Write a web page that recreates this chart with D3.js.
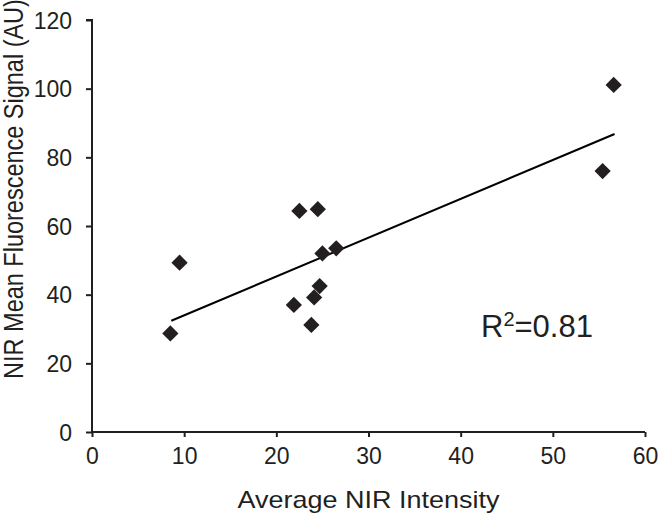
<!DOCTYPE html>
<html><head><meta charset="utf-8">
<script src="https://cdn.jsdelivr.net/npm/d3@7"></script>
<style>body{margin:0;background:#fff}svg{display:block}text{font-family:Arial,"Liberation Sans",sans-serif;fill:#231f20}</style>
</head><body>
<svg id="c" width="660" height="517"></svg>
<script>
const xVals = [8.5, 9.5, 21.9, 22.5, 23.8, 24.1, 24.5, 24.7, 25.0, 26.5, 55.4, 56.6];
const yVals = [28.7, 49.3, 37.0, 64.4, 31.2, 39.2, 64.9, 42.5, 52.0, 53.5, 76.0, 101.1];
const fitX = [8.6, 56.7];
const fitY = [32.4, 86.8];
const xTicks = [0, 10, 20, 30, 40, 50, 60];
const yTicks = [0, 20, 40, 60, 80, 100, 120];
const xTitle = "Average NIR Intensity";
const yTitle = "NIR Mean Fluorescence Signal (AU)";
const rLabel = "R", rSup = "2", rVal = "=0.81";

const ink = "#231f20";
const svg = d3.select("#c");
const x = d3.scaleLinear().domain([0, 60]).range([92, 645]);
const y = d3.scaleLinear().domain([0, 120]).range([432, 20]);

const gx = svg.append("g").attr("transform", `translate(0,${y(0)})`)
  .call(d3.axisBottom(x).tickValues(xTicks).tickSize(5).tickPadding(10).tickFormat(d3.format("d")));
const gy = svg.append("g").attr("transform", `translate(${x(0)},0)`)
  .call(d3.axisLeft(y).tickValues(yTicks).tickSize(6).tickPadding(14).tickFormat(d3.format("d")));
[gx, gy].forEach(g => {
  g.select(".domain").attr("stroke", ink).attr("stroke-width", 2);
  g.selectAll(".tick line").attr("stroke", ink).attr("stroke-width", 2);
  g.selectAll(".tick text").attr("font-size", 23).attr("fill", ink)
    .style("font-family", "Arial, 'Liberation Sans', sans-serif");
});
gy.select(".domain").attr("d", `M-6,${y(120)}H0V${y(0)}`);
gx.select(".domain").attr("d", `M0,0H${x(60) - x(0)}`).attr("transform", `translate(${x(0)},0)`);
gx.selectAll(".tick text").attr("dy", "0.75em");
gy.selectAll(".tick text").attr("dy", "0.35em");

// regression line
svg.append("line")
  .attr("x1", x(fitX[0])).attr("y1", y(fitY[0]))
  .attr("x2", x(fitX[1])).attr("y2", y(fitY[1]))
  .attr("stroke", "#000").attr("stroke-width", 2);

// diamonds
const pts = xVals.map((v, i) => ({x: v, y: yVals[i]}));
const sym = d3.symbol().type(d3.symbolSquare).size(132);
svg.append("g").selectAll("path").data(pts).join("path")
  .attr("d", sym)
  .attr("transform", d => `translate(${x(d.x)},${y(d.y)}) rotate(45)`)
  .attr("fill", ink);

// R^2 label
const rt = svg.append("text").attr("x", 481).attr("y", 337).attr("font-size", 31);
rt.append("tspan").text(rLabel);
rt.append("tspan").attr("font-size", 20).attr("dy", -11).text(rSup);
rt.append("tspan").attr("dy", 11).text(rVal);

// axis titles
svg.append("text").attr("x", (x(0) + x(60)) / 2).attr("y", 508)
  .attr("text-anchor", "middle").attr("font-size", 24)
  .attr("textLength", 262).attr("lengthAdjust", "spacingAndGlyphs").text(xTitle);
svg.append("text").attr("transform", `translate(23,189) scale(1.2,1) rotate(-90)`)
  .attr("text-anchor", "middle").attr("font-size", 23.5).text(yTitle);
</script>
</body></html>
